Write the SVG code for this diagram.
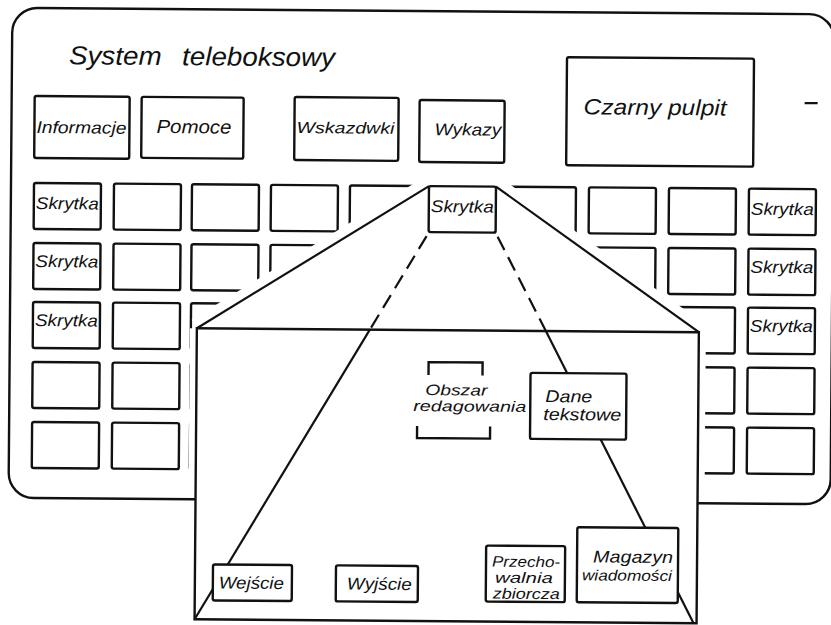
<svg xmlns="http://www.w3.org/2000/svg" width="831" height="625" viewBox="0 0 831 625">
<style>
.b{fill:#fff;stroke:#111;stroke-width:2.4}
.g{fill:none;stroke:#111;stroke-width:2.4}
.ln{fill:none;stroke:#111;stroke-width:2.2}
.dash{fill:none;stroke:#111;stroke-width:2.2;stroke-dasharray:15 8}
.halo{fill:none;stroke:#fff}
.t{font-family:"Liberation Sans",Arial,sans-serif;font-style:italic;fill:#111}
</style>
<rect width="831" height="625" fill="#fff"/>
<g transform="rotate(0.45 415 312)">
<g id="panel">
<path class="g" d="M10,36 A25,25 0 0 1 35,11 H807 A25,25 0 0 1 832,36 V476 A25,25 0 0 1 807,501 H35 A25,25 0 0 1 10,476 Z"/>
<text class="t" x="67" y="67" font-size="26" textLength="266" lengthAdjust="spacingAndGlyphs" word-spacing="12">System teleboksowy</text>
<line class="ln" x1="803" y1="100" x2="816" y2="100"/>
</g>
<g id="informacje"><rect class="b" x="33" y="99" width="95" height="62" rx="2"/><text class="t" x="35" y="136" font-size="17" textLength="90" lengthAdjust="spacingAndGlyphs">Informacje</text></g>
<g id="pomoce"><rect class="b" x="140" y="99" width="102" height="61" rx="2"/><text class="t" x="155" y="135" font-size="19" textLength="75" lengthAdjust="spacingAndGlyphs">Pomoce</text></g>
<g id="wskazdwki"><rect class="b" x="293" y="98" width="104" height="63" rx="2"/><text class="t" x="295" y="134" font-size="16" textLength="98" lengthAdjust="spacingAndGlyphs">Wskazdwki</text></g>
<g id="wykazy"><rect class="b" x="418" y="100" width="85" height="62" rx="2"/><text class="t" x="433" y="135" font-size="17" textLength="67" lengthAdjust="spacingAndGlyphs">Wykazy</text></g>
<g id="czarny-pulpit"><rect class="b" x="565" y="56" width="187" height="108" rx="2"/><text class="t" x="582" y="113" font-size="22" textLength="143" lengthAdjust="spacingAndGlyphs">Czarny pulpit</text></g>
<g id="grid">
<rect class="b" x="113" y="186" width="67" height="46" rx="2"/><rect class="b" x="191" y="186" width="67" height="46" rx="2"/><rect class="b" x="270" y="186" width="67" height="46" rx="2"/><rect class="b" x="349" y="186" width="67" height="46" rx="2"/><rect class="b" x="508" y="186" width="67" height="46" rx="2"/><rect class="b" x="588" y="186" width="67" height="46" rx="2"/><rect class="b" x="668" y="186" width="67" height="46" rx="2"/>
<rect class="b" x="113" y="246" width="67" height="46" rx="2"/><rect class="b" x="191" y="246" width="67" height="46" rx="2"/><rect class="b" x="270" y="246" width="67" height="46" rx="2"/><rect class="b" x="588" y="246" width="67" height="46" rx="2"/><rect class="b" x="668" y="246" width="67" height="46" rx="2"/>
<rect class="b" x="113" y="305" width="67" height="46" rx="2"/><rect class="b" x="191" y="305" width="67" height="46" rx="2"/><rect class="b" x="668" y="305" width="67" height="46" rx="2"/>
<rect class="b" x="33" y="365" width="67" height="46" rx="2"/><rect class="b" x="113" y="365" width="67" height="46" rx="2"/><rect class="b" x="191" y="365" width="67" height="46" rx="2"/><rect class="b" x="668" y="365" width="67" height="46" rx="2"/><rect class="b" x="748" y="365" width="67" height="46" rx="2"/>
<rect class="b" x="33" y="425" width="67" height="46" rx="2"/><rect class="b" x="113" y="425" width="67" height="46" rx="2"/><rect class="b" x="191" y="425" width="67" height="46" rx="2"/><rect class="b" x="668" y="425" width="67" height="46" rx="2"/><rect class="b" x="748" y="425" width="67" height="46" rx="2"/>
</g>
<g id="skrytka-l1"><rect class="b" x="33" y="186" width="67" height="46" rx="2"/><text class="t" x="35" y="212" font-size="17" textLength="63" lengthAdjust="spacingAndGlyphs">Skrytka</text></g>
<g id="skrytka-l2"><rect class="b" x="33" y="246" width="67" height="46" rx="2"/><text class="t" x="35" y="270" font-size="17" textLength="63" lengthAdjust="spacingAndGlyphs">Skrytka</text></g>
<g id="skrytka-l3"><rect class="b" x="33" y="305" width="67" height="46" rx="2"/><text class="t" x="35" y="329" font-size="17" textLength="63" lengthAdjust="spacingAndGlyphs">Skrytka</text></g>
<g id="skrytka-r1"><rect class="b" x="748" y="186" width="67" height="46" rx="2"/><text class="t" x="750" y="212" font-size="17" textLength="63" lengthAdjust="spacingAndGlyphs">Skrytka</text></g>
<g id="skrytka-r2"><rect class="b" x="748" y="246" width="67" height="46" rx="2"/><text class="t" x="750" y="270" font-size="17" textLength="63" lengthAdjust="spacingAndGlyphs">Skrytka</text></g>
<g id="skrytka-r3"><rect class="b" x="748" y="305" width="67" height="46" rx="2"/><text class="t" x="750" y="329" font-size="17" textLength="63" lengthAdjust="spacingAndGlyphs">Skrytka</text></g>
<g id="powiekszenie">
<polygon points="428,186 197,330 197,621 699,621 699,330 495,186" fill="#fff"/>
<polyline class="halo" stroke-width="20" points="428,186 197,330"/>
<polyline class="halo" stroke-width="20" points="495,186 699,330"/>
<line class="halo" stroke-width="14" x1="197" y1="330" x2="197" y2="492"/>
<line class="halo" stroke-width="14" x1="699" y1="330" x2="699" y2="492"/>
<rect class="g" x="197" y="330" width="502" height="291"/>
</g>
<g id="connectors">
<line class="ln" x1="428" y1="186" x2="197" y2="330"/>
<line class="ln" x1="495" y1="186" x2="699" y2="330"/>
<line class="dash" x1="426" y1="236" x2="370" y2="330"/>
<line class="ln" x1="370" y1="330" x2="197" y2="621"/>
<line class="dash" x1="497" y1="236" x2="546" y2="330"/>
<line class="ln" x1="546" y1="330" x2="696" y2="621"/>
</g>
<g id="skrytka-c"><rect class="b" x="428" y="186" width="67" height="46" rx="2"/><text class="t" x="430" y="212" font-size="17" textLength="63" lengthAdjust="spacingAndGlyphs">Skrytka</text></g>
<g id="obszar-redagowania">
<path class="g" d="M429,375 V362 H483 V375 M418,426 V438 H491 V426"/>
<text class="t" x="426" y="395" font-size="15" textLength="62" lengthAdjust="spacingAndGlyphs">Obszar</text>
<text class="t" x="414" y="411" font-size="15" textLength="113" lengthAdjust="spacingAndGlyphs">redagowania</text>
</g>
<g id="dane-tekstowe"><rect class="b" x="531" y="372" width="96" height="66" rx="2"/><text class="t" x="546" y="401" font-size="17" textLength="47" lengthAdjust="spacingAndGlyphs">Dane</text><text class="t" x="544" y="419" font-size="17" textLength="78" lengthAdjust="spacingAndGlyphs">tekstowe</text></g>
<g id="magazyn"><rect class="b" x="579" y="526" width="101" height="75" rx="2"/><text class="t" x="595" y="561" font-size="17" textLength="80" lengthAdjust="spacingAndGlyphs">Magazyn</text><text class="t" x="584" y="579" font-size="15" textLength="90" lengthAdjust="spacingAndGlyphs">wiadomości</text></g>
<g id="przechowalnia"><rect class="b" x="488" y="545" width="79" height="56" rx="2"/><text class="t" x="494" y="566" font-size="15" textLength="68" lengthAdjust="spacingAndGlyphs">Przecho-</text><text class="t" x="497" y="582" font-size="15" textLength="58" lengthAdjust="spacingAndGlyphs">walnia</text><text class="t" x="495" y="598" font-size="15" textLength="67" lengthAdjust="spacingAndGlyphs">zbiorcza</text></g>
<g id="wejscie"><rect class="b" x="215" y="566" width="79" height="36" rx="2"/><text class="t" x="221" y="590" font-size="17" textLength="65" lengthAdjust="spacingAndGlyphs">Wejście</text></g>
<g id="wyjscie"><rect class="b" x="338" y="566" width="82" height="36" rx="2"/><text class="t" x="349" y="590" font-size="17" textLength="65" lengthAdjust="spacingAndGlyphs">Wyjście</text></g>
</g>
</svg>
